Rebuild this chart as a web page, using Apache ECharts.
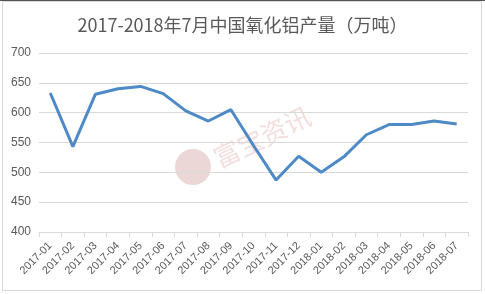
<!DOCTYPE html>
<html><head><meta charset="utf-8">
<script src="https://cdn.jsdelivr.net/npm/echarts@6/dist/echarts.min.js"></script>
<style>html,body{margin:0;padding:0;background:#fff}#c{width:485px;height:294px}</style>
</head><body><div id="c"></div>
<script>
const categories = ['2017-01','2017-02','2017-03','2017-04','2017-05','2017-06','2017-07','2017-08','2017-09','2017-10','2017-11','2017-12','2018-01','2018-02','2018-03','2018-04','2018-05','2018-06','2018-07'];
const production = [633,543,631,640,644,632,603,586,605,545,487,527,500,526,563,580,580,586,581];
const titleText = '2017-2018年7月中国氧化铝产量（万吨）';
const watermarkText = '富宝资讯';

const chart = echarts.init(document.getElementById('c'));
chart.setOption({
  animation:false,
  backgroundColor:'#fff',
  title:{text:titleText,left:'center',top:11,textStyle:{fontFamily:'Noto Sans CJK SC',fontSize:18,fontWeight:'normal',color:'#595959'}},
  graphic:[
    {type:'rect',shape:{x:2.5,y:1.5,width:479,height:289},style:{fill:'none',stroke:'#d9d9d9',lineWidth:1},z:-1},
    {type:'line',shape:{x1:0,y1:0.5,x2:485,y2:0.5},style:{stroke:'#555',lineWidth:1}},
    {type:'circle',shape:{cx:193,cy:167,r:18},style:{fill:'rgba(200,140,140,0.35)'},z:-1},
    {type:'text',x:262,y:137,rotation:0.45,style:{text:watermarkText,fontFamily:'Noto Sans CJK SC',fontSize:26,fill:'rgba(220,160,160,0.35)',align:'center',verticalAlign:'middle'},z:-1}
  ],
  grid:{left:39,right:17,top:53,bottom:62},
  xAxis:{type:'category',data:categories,boundaryGap:true,
    axisLine:{lineStyle:{color:'#d9d9d9'}},
    axisTick:{show:true,length:5,lineStyle:{color:'#d9d9d9'}},
    axisLabel:{rotate:45,fontSize:11,color:'#595959',fontFamily:'Liberation Sans',margin:12,interval:0}},
  yAxis:{type:'value',min:400,max:700,interval:50,
    axisLine:{show:false},axisTick:{show:false},
    axisLabel:{fontSize:12,color:'#595959',fontFamily:'Liberation Sans',margin:8},
    splitLine:{lineStyle:{color:'#d9d9d9'}}},
  series:[{type:'line',data:production,symbol:'none',lineStyle:{color:'#4d8ac6',width:3},z:3}]
});
</script></body></html>
